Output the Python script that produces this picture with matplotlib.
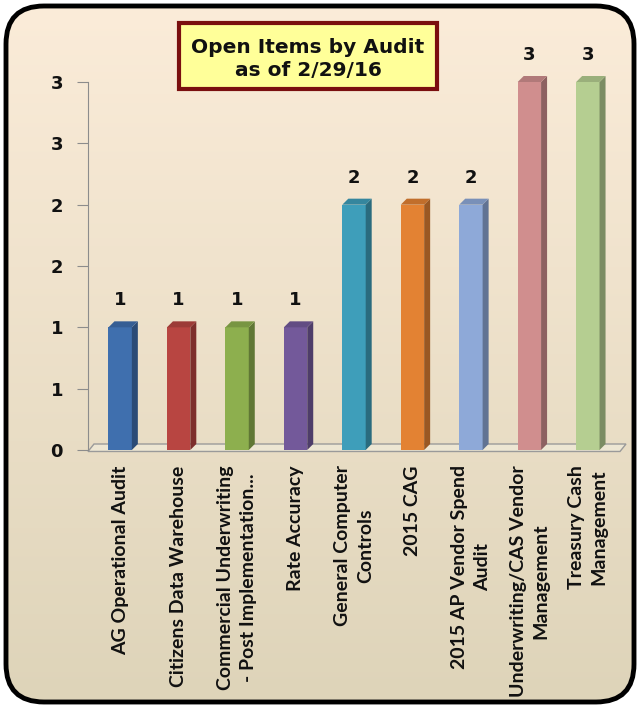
import numpy as np
import matplotlib.pyplot as plt
from matplotlib.patches import Polygon, FancyBboxPatch, Rectangle
from matplotlib.colors import to_rgb

audits = ['AG Operational Audit', 'Citizens Data Warehouse',
          'Commercial Underwriting\n- Post Implementation...', 'Rate Accuracy',
          'General Computer\nControls', '2015 CAG', '2015 AP Vendor Spend\nAudit',
          'Underwriting/CAS Vendor\nManagement', 'Treasury Cash\nManagement']
open_items = [1, 1, 1, 1, 2, 2, 2, 3, 3]
bar_colors = ['#3F6FAE', '#B84541', '#8DAF4E', '#73599A', '#3E9EBA',
              '#E38233', '#8EA9D8', '#D08E8E', '#B5CE91']
ytick_vals = [0, 0.5, 1, 1.5, 2, 2.5, 3]
ytick_text = ['0', '1', '1', '2', '2', '3', '3']
title = 'Open Items by Audit\nas of 2/29/16'


def shade(c, f):
    return tuple(np.clip(np.array(to_rgb(c)) * f, 0, 1))


fig = plt.figure(figsize=(6.37, 7.09), dpi=100)
fig.patch.set_facecolor('white')

# background panel in pixel coords
bg = fig.add_axes([0, 0, 1, 1])
bg.set_xlim(0, 637)
bg.set_ylim(709, 0)
bg.axis('off')
top_c = np.array(to_rgb('#FBECD9'))
bot_c = np.array(to_rgb('#DED4B9'))
t = np.linspace(0, 1, 256)[:, None, None]
grad = top_c * (1 - t) + bot_c * t
panel = FancyBboxPatch((6, 6), 628, 696, boxstyle='round,pad=0,rounding_size=38',
                       facecolor='none', edgecolor='black', lw=3.5, zorder=3)
im = bg.imshow(grad, extent=[6, 634, 702, 6], aspect='auto', zorder=1)
bg.add_patch(panel)
im.set_clip_path(panel)

# title box
bg.add_patch(Rectangle((179, 23), 258, 66, facecolor='#FFFF99', edgecolor='#7A0F0F',
                       lw=3, zorder=4))
bg.text(308, 59, title, ha='center', va='center', fontsize=14.5, fontweight='bold',
        linespacing=1.3, zorder=5, color='#111111')

ax = fig.add_axes([88 / 637, 1 - 450 / 709, 532 / 637, 368 / 709])
ax.set_facecolor('none')
ax.set_xlim(-0.55, 8.55)
ax.set_ylim(0, 3)

dx = 6 / 58.46
dy = 6 / 122.7
w = 0.4

# floor
ax.add_patch(Polygon([(-0.55, -0.012), (8.55, -0.012), (8.55 + dx, dy), (-0.55 + dx, dy)],
                     closed=True, facecolor='#EDE6D3', edgecolor='#9A9A9A', lw=1,
                     clip_on=False, zorder=1))

x = np.arange(len(open_items))
ax.bar(x, open_items, width=w, color=bar_colors, zorder=3, clip_on=False)
for i, v in enumerate(open_items):
    c = bar_colors[i]
    x0, x1 = i - w / 2, i + w / 2
    ax.add_patch(Polygon([(x1, 0), (x1 + dx, dy), (x1 + dx, v + dy), (x1, v)],
                         closed=True, facecolor=shade(c, 0.68), edgecolor='none',
                         zorder=3, clip_on=False))
    ax.add_patch(Polygon([(x0, v), (x1, v), (x1 + dx, v + dy), (x0 + dx, v + dy)],
                         closed=True, facecolor=shade(c, 0.85), edgecolor='none',
                         zorder=3, clip_on=False))
    ax.text(i, v + 0.22, str(v), ha='center', va='center', fontsize=13,
            fontweight='bold', color='#111111')
    ax.annotate(audits[i], xy=(i, 0), xytext=(0, -11), textcoords='offset points',
                rotation=90, ha='center', va='top', multialignment='center',
                fontsize=14, fontweight='bold', family='Lato', color='#111111',
                linespacing=1.4)

for s in ['top', 'right', 'bottom']:
    ax.spines[s].set_visible(False)
ax.spines['left'].set_color('#8C8C8C')
ax.set_xticks([])
ax.set_yticks(ytick_vals)
ax.set_yticklabels(ytick_text, fontsize=13, fontweight='bold', color='#111111')
ax.tick_params(axis='y', length=8, color='#8C8C8C', pad=10)

fig.savefig('out.png', dpi=100)
